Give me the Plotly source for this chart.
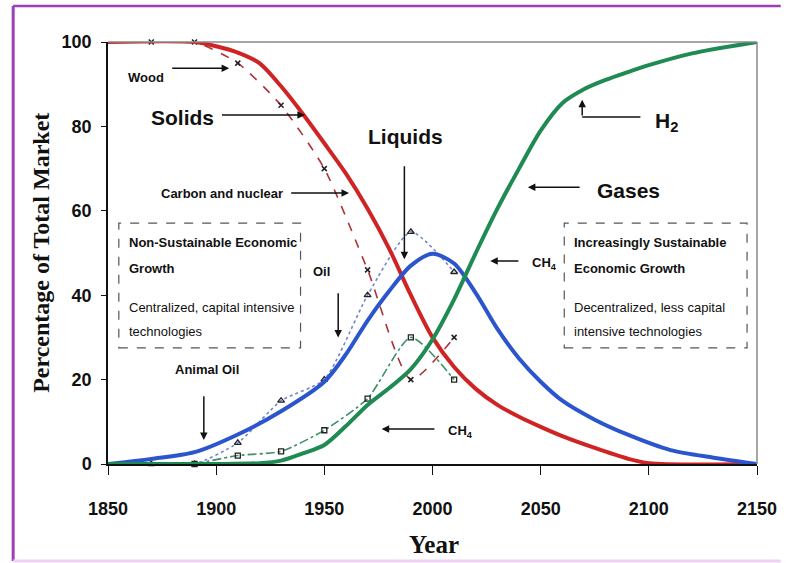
import plotly.graph_objects as go

# model curves (share of total market, %)
solids_years = [1850, 1890, 1900, 1910, 1920, 1930, 1940, 1950, 1960, 1970, 1980, 1990, 2000,
                2010, 2020, 2030, 2040, 2050, 2060, 2075, 2090, 2100, 2150]
solids_share = [100, 100, 99, 97.5, 95, 89.5, 83, 76, 68.8, 60.5, 51, 40, 30,
                23, 17.8, 14, 11.2, 8.8, 6.6, 3.8, 1.3, 0.2, 0]

liquids_years = [1850, 1870, 1890, 1910, 1930, 1950, 1960, 1970, 1980, 1990, 2000, 2010, 2020,
                 2030, 2040, 2050, 2060, 2075, 2090, 2110, 2130, 2150]
liquids_share = [0, 1.2, 2.8, 7, 12.5, 19.5, 26, 34, 41, 47, 49.8, 47.5, 40.5,
                 32, 25, 19.5, 15, 10.5, 7, 3.3, 1.5, 0]

gases_years = [1850, 1900, 1920, 1930, 1940, 1950, 1960, 1970, 1980, 1990, 2000, 2010, 2020,
               2030, 2040, 2050, 2060, 2070, 2080, 2090, 2100, 2120, 2150]
gases_share = [0, 0, 0.2, 0.8, 2.5, 4.5, 9, 14, 18, 22.5, 29.5, 39, 50,
               60.5, 70, 79, 85.5, 88.8, 91, 92.8, 94.5, 97.3, 100]

# historical data
hist_years = [1870, 1890, 1910, 1930, 1950, 1970, 1990, 2010]
wood_coal_share = [100, 100, 95, 85, 70, 46, 20, 30]
oil_share = [0, 0, 5, 15, 20, 40, 55, 45.5]
ch4_years = [1890, 1910, 1930, 1950, 1970, 1990, 2010]
ch4_share = [0, 2, 3, 8, 15.5, 30, 20]

x_ticks = [1850, 1900, 1950, 2000, 2050, 2100, 2150]
y_ticks = [0, 20, 40, 60, 80, 100]

SANS = "Liberation Sans, Arial, sans-serif"
SERIF = "Liberation Serif, Times New Roman, serif"

fig = go.Figure()

# historical (thin) lines
fig.add_trace(go.Scatter(x=hist_years, y=wood_coal_share, mode="lines+markers",
                         line=dict(color="#b0303a", width=1.6, dash="dash", shape="spline", smoothing=0.6),
                         marker=dict(symbol="x-thin", size=5, color="#222", line=dict(width=1.5, color="#222")),
                         cliponaxis=False))
fig.add_trace(go.Scatter(x=hist_years, y=oil_share, mode="lines+markers",
                         line=dict(color="#6f86c9", width=1.6, dash="dot", shape="spline", smoothing=0.6),
                         marker=dict(symbol="triangle-up-open", size=6, color="#222", line=dict(width=1.3)),
                         cliponaxis=False))
fig.add_trace(go.Scatter(x=ch4_years, y=ch4_share, mode="lines+markers",
                         line=dict(color="#3f8f68", width=1.6, dash="dashdot", shape="spline", smoothing=0.6),
                         marker=dict(symbol="square-open", size=5, color="#222", line=dict(width=1.3)),
                         cliponaxis=False))

# model curves
fig.add_trace(go.Scatter(x=solids_years, y=solids_share, mode="lines",
                         line=dict(color="#d02424", width=4, shape="spline", smoothing=0.8),
                         cliponaxis=False))
fig.add_trace(go.Scatter(x=liquids_years, y=liquids_share, mode="lines",
                         line=dict(color="#2b55cc", width=4, shape="spline", smoothing=0.8),
                         cliponaxis=False))
fig.add_trace(go.Scatter(x=gases_years, y=gases_share, mode="lines",
                         line=dict(color="#1f8a52", width=4, shape="spline", smoothing=0.8),
                         cliponaxis=False))


def label(x, y, text, size, anchor="center"):
    fig.add_annotation(x=x, y=y, text=text, showarrow=False, xanchor=anchor, yanchor="middle",
                       font=dict(family=SANS, size=size, color="#111"))


def arrow(x0, y0, x1, y1):
    fig.add_annotation(x=x1, y=y1, ax=x0, ay=y0, axref="x", ayref="y", text="",
                       showarrow=True, arrowhead=2, arrowsize=1, arrowwidth=1.5, arrowcolor="#111")


label(1867.4, 91.7, "<b>Wood</b>", 13)
arrow(1879, 93.8, 1906, 93.8)
label(1884.5, 82.2, "<b>Solids</b>", 21)
arrow(1902, 82.7, 1941, 82.7)
label(1902.5, 64.2, "<b>Carbon and nuclear</b>", 13)
arrow(1934, 64.2, 1961.4, 64.2)
label(1987.4, 77.5, "<b>Liquids</b>", 21)
arrow(1987, 70.9, 1987, 48.5)
label(1948.5, 45.5, "<b>Oil</b>", 13)
arrow(1956.4, 40.8, 1956.4, 30)
label(1895.8, 22.3, "<b>Animal Oil</b>", 13)
arrow(1894.3, 16.4, 1894.3, 5.7)
label(2013, 7.6, "<b>CH<sub>4</sub></b>", 13)
arrow(2001.6, 8.3, 1976.5, 8.3)
label(2051.8, 47.6, "<b>CH<sub>4</sub></b>", 13)
arrow(2040.4, 48.1, 2026.7, 48.1)
label(2090.6, 64.9, "<b>Gases</b>", 21)
arrow(2068.7, 65.6, 2044.1, 65.6)
label(2108, 81, "<b>H<sub>2</sub></b>", 21)
fig.add_shape(type="line", x0=2096.1, x1=2069.2, y0=82.2, y1=82.2, line=dict(color="#111", width=1.5))
arrow(2069.2, 82.2, 2069.2, 86.3)

# dashed text boxes
for bx0, bx1 in [(1855, 1939), (2060.9, 2145.4)]:
    fig.add_shape(type="rect", x0=bx0, x1=bx1, y0=27.5, y1=57.1,
                  line=dict(color="#555", width=1.2, dash="dash"))

left_lines = ["<b>Non-Sustainable Economic</b>", "<b>Growth</b>",
              "Centralized, capital intensive", "technologies"]
right_lines = ["<b>Increasingly Sustainable</b>", "<b>Economic Growth</b>",
               "Decentralized, less capital", "intensive technologies"]
for yy, lt, rt in zip([52.4, 46.4, 37.2, 31.3], left_lines, right_lines):
    label(1858.7, yy, lt, 13, "left")
    label(2064.6, yy, rt, 13, "left")

# axis titles
fig.add_annotation(xref="paper", yref="paper", x=(438 - 108) / 657, y=(464 - 544) / 422,
                   xanchor="center", yanchor="middle",
                   text="<b>Year</b>", showarrow=False,
                   font=dict(family=SERIF, size=25, color="#111"))
fig.add_annotation(xref="paper", yref="paper", x=(40 - 108) / 657, y=0.5, textangle=-90,
                   xanchor="center", yanchor="middle",
                   text="<b>Percentage of Total Market</b>", showarrow=False,
                   font=dict(family=SERIF, size=24, color="#111"))

# frame: top/right box lines in gray
fig.add_shape(type="line", xref="paper", yref="paper", x0=0, x1=1, y0=1, y1=1,
              line=dict(color="#888", width=1.5))
fig.add_shape(type="line", xref="paper", yref="paper", x0=1, x1=1, y0=0, y1=1,
              line=dict(color="#888", width=1.5))

# purple picture border
bl, bt, bb, br = (12 - 108) / 657, (464 - 6) / 422, (464 - 561) / 422, (789 - 108) / 657
fig.add_shape(type="line", xref="paper", yref="paper", x0=bl, x1=br, y0=bt, y1=bt,
              line=dict(color="#9c3fb6", width=2.5))
fig.add_shape(type="line", xref="paper", yref="paper", x0=bl, x1=bl, y0=bb, y1=bt,
              line=dict(color="#9c3fb6", width=3))
fig.add_shape(type="line", xref="paper", yref="paper", x0=bl, x1=br, y0=bb, y1=bb,
              line=dict(color="#f0cff5", width=3))

fig.update_xaxes(range=[1850, 2150], tickvals=x_ticks, ticks="outside", ticklen=9,
                 tickcolor="#111", showgrid=False, zeroline=False, showline=True,
                 linecolor="#111", linewidth=1.5, ticklabelstandoff=19,
                 tickfont=dict(family=SANS, size=18, color="#111", weight="bold"))
fig.update_yaxes(range=[0, 100], tickvals=y_ticks, ticks="outside", ticklen=5,
                 tickcolor="#111", showgrid=False, zeroline=False, showline=True,
                 linecolor="#111", linewidth=1.5, ticklabelstandoff=6,
                 tickfont=dict(family=SANS, size=18, color="#111", weight="bold"))

fig.update_layout(width=789, height=563, margin=dict(l=108, r=24, t=42, b=99),
                  paper_bgcolor="white", plot_bgcolor="white", showlegend=False)

fig.write_html("out.html", config={"displayModeBar": False},
               post_script="document.body.style.margin='0';")
